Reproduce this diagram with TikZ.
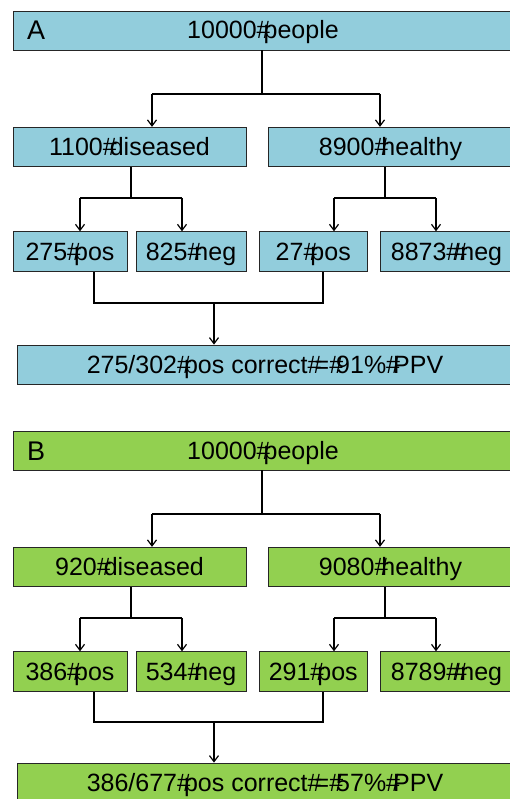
\documentclass[tikz,border=0pt]{standalone}
\usepackage{fontspec}
\setmainfont{Liberation Sans}
\usetikzlibrary{arrows.meta}
\definecolor{boxblue}{RGB}{146,205,220}
\definecolor{boxgreen}{RGB}{146,208,80}
\newcommand\hs{\makebox[0.278em][l]{\#}}
\begin{document}
\begin{tikzpicture}[x=1pt,y=-1pt,
  bx/.style={draw=black!85,line width=0.8pt,rectangle,inner sep=0pt,
    font=\fontsize{25}{28}\selectfont,text height=18pt,text depth=1pt},
  lbl/.style={anchor=west,inner sep=0pt,font=\fontsize{27}{30}\selectfont,
    text height=19.5pt,text depth=0.5pt},
  conn/.style={line width=1.4pt,black},
  arr/.style={conn,-{Straight Barb[length=6pt,width=9pt,line width=1.2pt]}}]
\useasboundingbox (0,0) rectangle (509,799);
% ---------- Panel A ----------
\node[bx,fill=boxblue,minimum width=500pt,minimum height=39pt] (a0) at (263,30.5) {10000\hs people};
\node[lbl] (aL) at (27,30.5) {A};
\node[bx,fill=boxblue,minimum width=233pt,minimum height=39.5pt] (a1) at (129.5,147) {1100\hs diseased};
\node[bx,fill=boxblue,minimum width=245pt,minimum height=39.5pt] (a2) at (390.5,147) {8900\hs healthy};
\node[bx,fill=boxblue,minimum width=114pt,minimum height=40pt] (a3) at (70,251.7) {275\hs pos};
\node[bx,fill=boxblue,minimum width=110pt,minimum height=40pt] (a4) at (191,251.7) {825\hs neg};
\node[bx,fill=boxblue,minimum width=107.5pt,minimum height=40pt] (a5) at (313.25,251.7) {27\hs pos};
\node[bx,fill=boxblue,minimum width=133pt,minimum height=40pt] (a6) at (446.5,251.7) {8873\hs\hs neg};
\node[bx,fill=boxblue,minimum width=496pt,minimum height=39pt] (a7) at (265,364.5) {275/302\hs pos correct\hs=\hs 91\%\hs PPV};
\coordinate (aj0) at (262,94);
\coordinate (aj0l) at (152,94);
\coordinate (aj0r) at (380,94);
\coordinate (aj1) at (131,198);
\coordinate (aj1l) at (80,198);
\coordinate (aj1r) at (182,198);
\coordinate (aj2) at (385,198);
\coordinate (aj2l) at (334,198);
\coordinate (aj2r) at (436,198);
\coordinate (aj3l) at (94,303);
\coordinate (aj3r) at (323,303);
\coordinate (aj3) at (214,303);
\draw[conn] (a0.south -| aj0) -- (aj0);
\draw[conn] (aj0l) -- (aj0r);
\draw[arr] (aj0l) -- (a1.north -| aj0l);
\draw[arr] (aj0r) -- (a2.north -| aj0r);
\draw[conn] (a1.south -| aj1) -- (aj1);
\draw[conn] (aj1l) -- (aj1r);
\draw[arr] (aj1l) -- (a3.north -| aj1l);
\draw[arr] (aj1r) -- (a4.north -| aj1r);
\draw[conn] (a2.south -| aj2) -- (aj2);
\draw[conn] (aj2l) -- (aj2r);
\draw[arr] (aj2l) -- (a5.north -| aj2l);
\draw[arr] (aj2r) -- (a6.north -| aj2r);
\draw[conn] (a3.south -| aj3l) -- (aj3l) -- (aj3r) -- (a5.south -| aj3r);
\draw[arr] (aj3) -- (a7.north -| aj3);
% ---------- Panel B ----------
\node[bx,fill=boxgreen,minimum width=500pt,minimum height=39pt] (b0) at (263,450.5) {10000\hs people};
\node[lbl] (bL) at (27,450.5) {B};
\node[bx,fill=boxgreen,minimum width=233pt,minimum height=39.5pt] (b1) at (129.5,567) {920\hs diseased};
\node[bx,fill=boxgreen,minimum width=245pt,minimum height=39.5pt] (b2) at (390.5,567) {9080\hs healthy};
\node[bx,fill=boxgreen,minimum width=114pt,minimum height=40pt] (b3) at (70,671.7) {386\hs pos};
\node[bx,fill=boxgreen,minimum width=110pt,minimum height=40pt] (b4) at (191,671.7) {534\hs neg};
\node[bx,fill=boxgreen,minimum width=107.5pt,minimum height=40pt] (b5) at (313.25,671.7) {291\hs pos};
\node[bx,fill=boxgreen,minimum width=133pt,minimum height=40pt] (b6) at (446.5,671.7) {8789\hs\hs neg};
\node[bx,fill=boxgreen,minimum width=496pt,minimum height=39pt] (b7) at (265,782.5) {386/677\hs pos correct\hs=\hs 57\%\hs PPV};
\coordinate (bj0) at (262,514);
\coordinate (bj0l) at (152,514);
\coordinate (bj0r) at (380,514);
\coordinate (bj1) at (131,618);
\coordinate (bj1l) at (80,618);
\coordinate (bj1r) at (182,618);
\coordinate (bj2) at (385,618);
\coordinate (bj2l) at (334,618);
\coordinate (bj2r) at (436,618);
\coordinate (bj3l) at (94,722);
\coordinate (bj3r) at (323,722);
\coordinate (bj3) at (214,722);
\draw[conn] (b0.south -| bj0) -- (bj0);
\draw[conn] (bj0l) -- (bj0r);
\draw[arr] (bj0l) -- (b1.north -| bj0l);
\draw[arr] (bj0r) -- (b2.north -| bj0r);
\draw[conn] (b1.south -| bj1) -- (bj1);
\draw[conn] (bj1l) -- (bj1r);
\draw[arr] (bj1l) -- (b3.north -| bj1l);
\draw[arr] (bj1r) -- (b4.north -| bj1r);
\draw[conn] (b2.south -| bj2) -- (bj2);
\draw[conn] (bj2l) -- (bj2r);
\draw[arr] (bj2l) -- (b5.north -| bj2l);
\draw[arr] (bj2r) -- (b6.north -| bj2r);
\draw[conn] (b3.south -| bj3l) -- (bj3l) -- (bj3r) -- (b5.south -| bj3r);
\draw[arr] (bj3) -- (b7.north -| bj3);
\end{tikzpicture}
\end{document}
